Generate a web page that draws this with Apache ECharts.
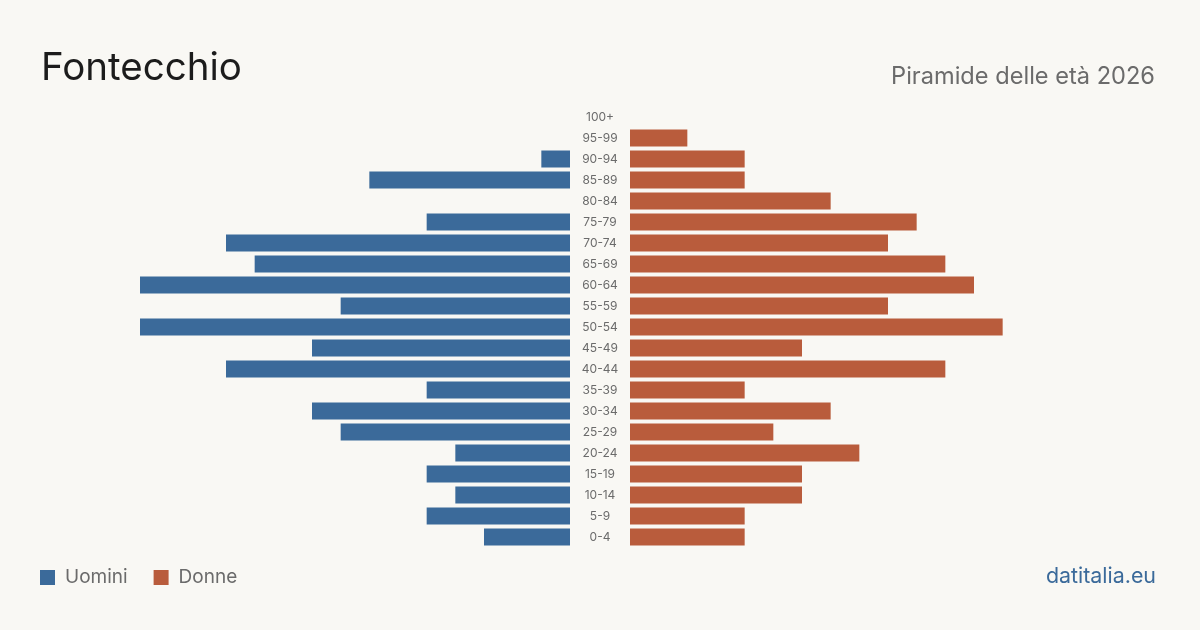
<!DOCTYPE html>
<html>
<head>
<meta charset="utf-8">
<script src="https://cdn.jsdelivr.net/npm/echarts@6/dist/echarts.min.js"></script>
<style>
  html, body { margin: 0; padding: 0; background: #f9f8f4; }
  #chart { width: 1200px; height: 630px; }
</style>
</head>
<body>
<div id="chart"></div>
<script>
  // fasce d'età, dal basso verso l'alto
  const ageGroups = ['0-4', '5-9', '10-14', '15-19', '20-24', '25-29', '30-34', '35-39', '40-44', '45-49',
    '50-54', '55-59', '60-64', '65-69', '70-74', '75-79', '80-84', '85-89', '90-94', '95-99', '100+'];
  const uomini = [3, 5, 4, 5, 4, 8, 9, 5, 12, 9, 15, 8, 15, 11, 12, 5, 0, 7, 1, 0, 0];
  const donne = [4, 4, 6, 6, 8, 5, 7, 4, 11, 6, 13, 9, 12, 11, 9, 10, 7, 4, 4, 2, 0];
  const maxVal = 15;

  const blu = '#3b6a9a';
  const arancio = '#b95c3c';
  const font = 'Inter, "Noto Sans", sans-serif';

  const chart = echarts.init(document.getElementById('chart'));

  const option = {
    backgroundColor: '#f9f8f4',
    animation: false,
    textStyle: { fontFamily: font },
    title: [
      {
        text: 'Fontecchio',
        left: 36, top: 44,
        textStyle: { fontSize: 38.5, fontWeight: 'normal', color: '#1c1c1c', fontFamily: font },
      },
      {
        text: 'Piramide delle età 2026',
        right: 40, top: 60,
        textStyle: { fontSize: 23.6, fontWeight: 'normal', color: '#6b6b6b', fontFamily: font },
      },
      {
        text: 'datitalia.eu',
        right: 39, top: 561,
        textStyle: { fontSize: 21.4, fontWeight: 'normal', color: '#3b6a9a', fontFamily: font },
      },
    ],
    legend: {
      left: 35, top: 563,
      icon: 'rect',
      itemWidth: 15, itemHeight: 15,
      itemGap: 26,
      textStyle: { fontSize: 19, color: '#6b6b6b', padding: [0, 0, 0, 5], fontFamily: font },
      data: ['Uomini', 'Donne'],
    },
    grid: [
      { left: 140, width: 430, top: 106.5, bottom: 82.5 },
      { left: 630, width: 430, top: 106.5, bottom: 82.5 },
    ],
    xAxis: [
      { gridIndex: 0, type: 'value', min: 0, max: maxVal, inverse: true, show: false },
      { gridIndex: 1, type: 'value', min: 0, max: maxVal, show: false },
    ],
    yAxis: [
      {
        gridIndex: 0, type: 'category', data: ageGroups, position: 'right',
        axisLine: { show: false }, axisTick: { show: false },
        axisLabel: { align: 'center', margin: 30, fontSize: 12, color: '#6b6b6b', fontFamily: font },
      },
      {
        gridIndex: 1, type: 'category', data: ageGroups,
        axisLine: { show: false }, axisTick: { show: false }, axisLabel: { show: false },
      },
    ],
    series: [
      {
        name: 'Uomini', type: 'bar', xAxisIndex: 0, yAxisIndex: 0,
        data: uomini, barWidth: 17, itemStyle: { color: blu },
      },
      {
        name: 'Donne', type: 'bar', xAxisIndex: 1, yAxisIndex: 1,
        data: donne, barWidth: 17, itemStyle: { color: arancio },
      },
    ],
  };

  chart.setOption(option);
</script>
</body>
</html>
